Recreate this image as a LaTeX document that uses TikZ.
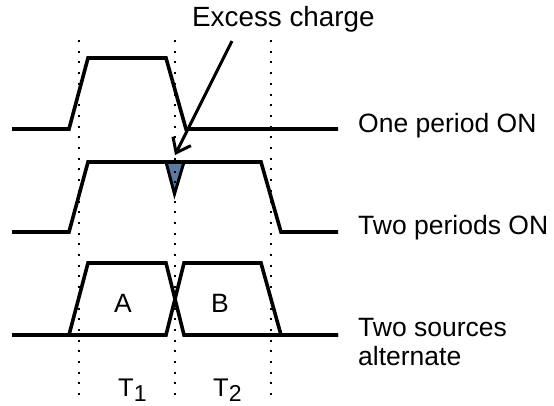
\documentclass[tikz,border=0pt]{standalone}
\usepackage{fontspec}
\setmainfont{Liberation Sans}
\usetikzlibrary{arrows.meta}
\definecolor{notchblue}{RGB}{90,122,162}
\begin{document}
\begin{tikzpicture}[x=1pt,y=-1pt,
  wave/.style={line width=3.6pt,line join=miter},
  guide/.style={line width=2pt,dash pattern=on 2pt off 8.7pt},
  lbl/.style={inner sep=0pt,font=\fontsize{26.5}{29}\selectfont},
  pointer/.style={line width=3pt,-{Straight Barb[length=13pt,width=20pt,line width=3pt]}}]
\useasboundingbox (0,0) rectangle (554,405);
% guide lines
\foreach \gx/\gn in {79/ga,174.5/gb,270.7/gc}{
  \coordinate (\gn top) at (\gx,40);
  \coordinate (\gn bot) at (\gx,399);
  \draw[guide] (\gn top) -- (\gn bot);
}
% triangle (excess charge)
\filldraw[fill=notchblue,draw=black,line width=3pt,line join=miter]
  (166,162) -- (174.5,194) -- (184,162) -- cycle;
\draw[guide] (174.5,160) -- (174.5,196);
% top waveform
\draw[wave] (12,129) -- (69,129) -- (88,58) -- (166,58) -- (186,129) -- (338,129);
% middle waveform
\draw[wave] (12,232) -- (69,232) -- (88,162) -- (261,162) -- (281,232) -- (338,232);
% bottom waveforms
\draw[wave] (12,335) -- (69,335) -- (88,263) -- (166,263) -- (184,335) -- (338,335);
\draw[wave] (12,335) -- (166,335) -- (184,263) -- (261,263) -- (281,335) -- (338,335);
% labels
\node[lbl,font=\fontsize{27.8}{30}\selectfont,anchor=base west] (excess) at (192,26) {Excess charge};
\coordinate (arrtail) at (232,41);
\coordinate (arrtip) at (175,155);
\draw[pointer] (arrtail) -- (arrtip);
\node[lbl,anchor=base west] (one) at (358,132) {One period ON};
\node[lbl,anchor=base west] (two) at (358,234) {Two periods ON};
\node[lbl,anchor=base west,align=left] (alt) at (358,365) {Two sources\\alternate};
\node[lbl] (la) at (123,303) {A};
\node[lbl] (lb) at (220,303) {B};
\node[lbl,font=\fontsize{25.5}{28}\selectfont,anchor=base west] (t1) at (118,396) {T\raisebox{-5pt}{\fontsize{23}{23}\selectfont 1}};
\node[lbl,font=\fontsize{25.5}{28}\selectfont,anchor=base west] (t2) at (213,396) {T\raisebox{-5pt}{\fontsize{23}{23}\selectfont 2}};
\end{tikzpicture}
\end{document}
